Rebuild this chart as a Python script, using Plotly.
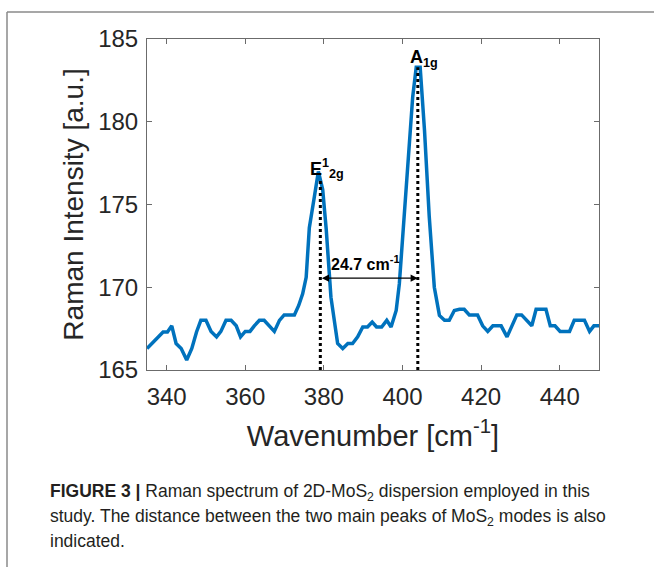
import plotly.graph_objects as go

# Raman spectrum
wavenumber = [335.0, 339.1, 340.2, 341.3, 342.4, 343.7, 345.1, 346.4, 347.6, 348.7,
              350.0, 351.3, 352.7, 353.8, 355.1, 356.4, 357.7, 358.8, 360.0, 361.2,
              362.3, 363.6, 364.8, 366.1, 367.4, 368.7, 369.9, 371.2, 372.5, 373.6,
              374.6, 375.5, 376.3, 377.6, 378.6, 379.7, 380.6, 381.8, 382.7, 383.5,
              384.8, 386.1, 387.3, 388.6, 389.9, 391.1, 392.3, 393.4, 394.7, 396.0,
              397.1, 398.4, 399.2, 400.1, 401.3, 402.6, 403.5, 404.5, 405.6, 406.8,
              408.1, 409.4, 410.7, 411.9, 413.2, 414.5, 415.7, 417.0, 419.1, 420.4,
              421.7, 423.0, 424.0, 425.1, 426.6, 427.9, 429.1, 430.3, 431.6, 432.9,
              434.0, 435.3, 436.5, 437.6, 438.8, 440.1, 441.3, 442.5, 443.7, 445.0,
              446.3, 447.6, 448.7, 450.0]
intensity = [166.3, 167.3, 167.3, 167.67, 166.6, 166.3, 165.6, 166.3, 167.3, 168.0,
             168.0, 167.33, 167.0, 167.33, 168.0, 168.0, 167.67, 167.0, 167.33, 167.33,
             167.67, 168.0, 168.0, 167.67, 167.33, 168.0, 168.33, 168.33, 168.33, 168.9,
             169.6, 170.6, 173.6, 175.5, 177.0, 175.9, 173.5, 169.4, 168.0, 166.6,
             166.3, 166.6, 166.6, 167.0, 167.6, 167.6, 167.9, 167.6, 167.6, 168.0,
             167.6, 168.6, 170.2, 173.1, 177.5, 181.5, 183.3, 183.3, 179.5, 174.3,
             170.0, 168.3, 168.0, 168.0, 168.6, 168.67, 168.67, 168.33, 168.33, 167.67,
             167.33, 167.67, 167.67, 167.67, 167.0, 167.67, 168.33, 168.33, 168.0, 167.67,
             168.67, 168.67, 168.67, 167.67, 167.67, 167.33, 167.33, 167.33, 168.0, 168.0,
             168.0, 167.33, 167.67, 167.67]

peak_pos = [379.1, 403.9]
peak_top = [176.5, 183.3]
peak_labels = ["E<sup>1</sup><sub>2g</sub>", "A<sub>1g</sub>"]
peak_label_x = [380.7, 405.4]
peak_label_y = [177.15, 183.85]
shift_label = "24.7 cm<sup>-1</sup>"
arrow_y = 170.55
shift_label_pos = (390.6, 171.45)

x_ticks = [340, 360, 380, 400, 420, 440]
y_ticks = [165, 170, 175, 180, 185]

W, H = 654, 567
ML, MR, MT, MB = 147, 55, 39, 197
PW, PH = W - ML - MR, H - MT - MB


def px(xp):
    return (xp - ML) / PW


def py(yp):
    return (H - MB - yp) / PH


fig = go.Figure()
fig.add_trace(go.Scatter(x=wavenumber, y=intensity, mode="lines",
                         line=dict(color="#0072BD", width=3.5), showlegend=False,
                         hoverinfo="skip"))

for xp, yt in zip(peak_pos, peak_top):
    fig.add_shape(type="line", x0=xp, x1=xp, y0=165, y1=yt, xref="x", yref="y",
                  line=dict(color="black", width=3, dash="dot"))

annotations = []
for lbl, lx, ly in zip(peak_labels, peak_label_x, peak_label_y):
    annotations.append(dict(x=lx, y=ly, xref="x", yref="y", text="<b>" + lbl + "</b>",
                            showarrow=False, font=dict(size=18, color="black",
                                                       family="Liberation Sans, Arial")))
annotations.append(dict(x=peak_pos[1], y=arrow_y, ax=peak_pos[0], ay=arrow_y,
                        xref="x", yref="y", axref="x", ayref="y", text="",
                        showarrow=True, arrowhead=2, arrowside="end+start",
                        arrowsize=1.2, arrowwidth=1.2, arrowcolor="black",
                        standoff=0, startstandoff=0))
annotations.append(dict(x=shift_label_pos[0], y=shift_label_pos[1], xref="x", yref="y",
                        text="<b>" + shift_label + "</b>", showarrow=False,
                        font=dict(size=16, color="black", family="Liberation Sans, Arial")))

caption_lines = [
    "<b>FIGURE 3 |</b> Raman spectrum of 2D-MoS<sub>2</sub> dispersion employed in this",
    "study. The distance between the two main peaks of MoS<sub>2</sub> modes is also",
    "indicated.",
]
caption_y = [493, 517, 541]
for t, yy in zip(caption_lines, caption_y):
    annotations.append(dict(x=px(48), y=py(yy), xref="paper", yref="paper", text=t,
                            showarrow=False, xanchor="left", yanchor="middle",
                            font=dict(size=17.5, color="#231f20",
                                      family="Liberation Sans, Arial")))

# frame lines of the figure page
fig.add_shape(type="line", xref="paper", yref="paper", x0=px(7), x1=px(654),
              y0=py(12), y1=py(12), line=dict(color="#8a8a8a", width=1.5))
fig.add_shape(type="line", xref="paper", yref="paper", x0=px(7), x1=px(7),
              y0=py(12), y1=py(567), line=dict(color="#8a8a8a", width=1.5))

axis_common = dict(showgrid=False, zeroline=False, showline=True, linecolor="#6b6b6b",
                   linewidth=1, mirror="ticks", ticks="inside", ticklen=5,
                   tickcolor="#6b6b6b",
                   tickfont=dict(size=24, color="#262626", family="Liberation Sans, Arial"))

fig.update_layout(
    width=W, height=H,
    margin=dict(l=ML, r=MR, t=MT, b=MB),
    paper_bgcolor="white", plot_bgcolor="white",
    xaxis=dict(range=[335, 450], tickvals=x_ticks, ticktext=[str(v) for v in x_ticks],
               ticklabelstandoff=5,
               title=dict(text="Wavenumber [cm<sup>-1</sup>]", standoff=16,
                          font=dict(size=29, color="#262626",
                                    family="Liberation Sans, Arial")),
               **axis_common),
    yaxis=dict(range=[165, 185], tickvals=y_ticks, ticktext=[str(v) for v in y_ticks],
               ticklabelstandoff=3,
               title=dict(text="Raman Intensity [a.u.]", standoff=6,
                          font=dict(size=28, color="#262626",
                                    family="Liberation Sans, Arial")),
               **axis_common),
    annotations=annotations,
)

fig.write_html("out.html")
